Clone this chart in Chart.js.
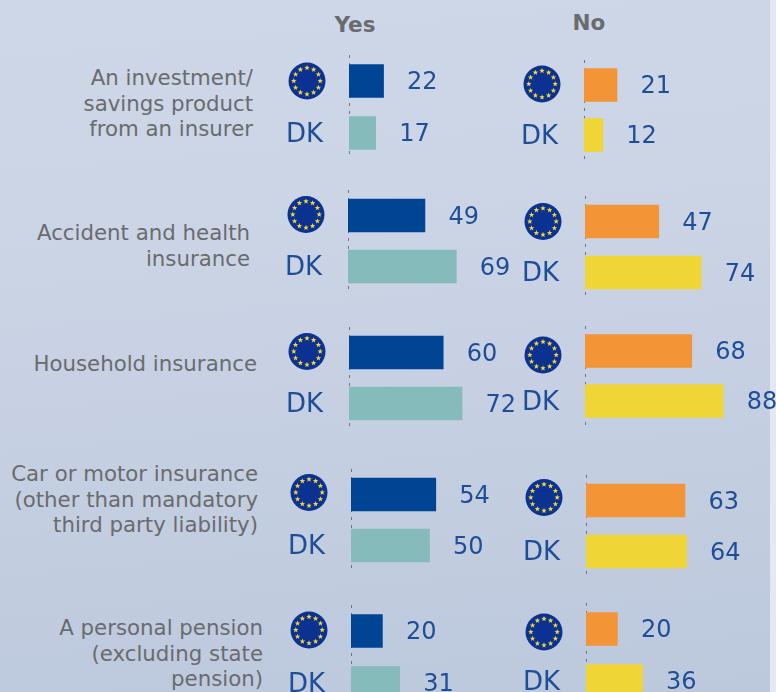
<!DOCTYPE html>
<html>
<head>
<meta charset="utf-8">
<script src="https://cdn.jsdelivr.net/npm/chart.js@4"></script>
<style>
  html, body { margin: 0; padding: 0; }
  body {
    width: 776px; height: 692px; overflow: hidden; position: relative;
    background: linear-gradient(175deg, #cdd7e7 0%, #ccd5e6 30%, #bcc8dc 100%);
    font-family: "DejaVu Sans", sans-serif; color: #6a6b6e;
  }
  canvas { position: absolute; }
  .edge { position: absolute; left: 770px; top: 0; width: 6px; height: 692px; background: #e3e8f2; }
  .cat { position: absolute; text-align: right; font-size: 21.3px; line-height: 25.5px; white-space: nowrap; }
  .head { position: absolute; font-size: 21.5px; font-weight: bold; transform: translateX(-50%); }
</style>
</head>
<body>
<div class="edge"></div>
<div class="head" style="left:355px;top:12px">Yes</div>
<div class="head" style="left:589px;top:10px">No</div>
<script>
const categories = [
  "An investment/\nsavings product\nfrom an insurer",
  "Accident and health\ninsurance",
  "Household insurance",
  "Car or motor insurance\n(other than mandatory\nthird party liability)",
  "A personal pension\n(excluding state\npension)",
];
const rowLabels = ["EU", "DK"];
const yesEU = [22, 49, 60, 54, 20];
const yesDK = [17, 69, 72, 50, 31];
const noEU = [21, 47, 68, 63, 20];
const noDK = [12, 74, 88, 64, 36];

// page layout for each small chart: axis x, first bar y, row spacing, flag nudge
const yesLayout = [[349, 81, 52, 0], [348, 215, 51, -1], [349, 352, 51, -1], [351, 494, 51, -2], [351, 631, 52, -1]];
const noLayout = [[584, 85, 50, -1], [585, 221, 51, 0], [585, 351, 50, 4], [586, 500, 51, -3], [586, 629, 52, 3]];
const catLayout = [[253, 65], [250, 220], [257, 351], [258, 461], [263, 615]];

const textBlue = "#1f4e98";

function drawFlag(ctx, cx, cy) {
  ctx.save();
  ctx.fillStyle = "#0b3291";
  ctx.beginPath();
  ctx.arc(cx, cy, 18.5, 0, Math.PI * 2);
  ctx.fill();
  ctx.fillStyle = "#f5d63a";
  for (let i = 0; i < 12; i++) {
    const a = (i * Math.PI) / 6;
    const sx = cx + 13.2 * Math.sin(a);
    const sy = cy - 13.2 * Math.cos(a);
    ctx.beginPath();
    for (let k = 0; k < 10; k++) {
      const r = k % 2 ? 1.2 : 2.9;
      const b = (k * Math.PI) / 5;
      ctx.lineTo(sx + r * Math.sin(b), sy - r * Math.cos(b));
    }
    ctx.closePath();
    ctx.fill();
  }
  ctx.restore();
}

// dotted zero line, flag, DK label and the value next to each bar
const rowDecor = {
  id: "rowDecor",
  beforeDatasetsDraw(chart) {
    const { ctx, chartArea, scales } = chart;
    const x = Math.round(scales.x.getPixelForValue(0)) + 0.5;
    ctx.save();
    ctx.strokeStyle = "#6f7680";
    ctx.setLineDash([3, 5]);
    ctx.beginPath();
    ctx.moveTo(x, chartArea.top);
    ctx.lineTo(x, chartArea.bottom);
    ctx.stroke();
    ctx.restore();
  },
  afterDatasetsDraw(chart, args, opts) {
    const { ctx, scales } = chart;
    drawFlag(ctx, scales.x.left - 42, scales.y.getPixelForValue(0) + opts.flagDy);
    ctx.save();
    ctx.fillStyle = textBlue;
    ctx.textBaseline = "middle";
    ctx.font = "26px 'DejaVu Sans'";
    ctx.textAlign = "right";
    ctx.fillText(chart.data.labels[1], scales.x.left - 26, scales.y.getPixelForValue(1) + 2);
    ctx.font = "24px 'DejaVu Sans'";
    ctx.textAlign = "left";
    chart.data.datasets[0].data.forEach((v, i) => {
      ctx.fillText(v, scales.x.getPixelForValue(v) + 23.5, scales.y.getPixelForValue(i) + 2);
    });
    ctx.restore();
  },
};

function addChart(euValues, dkValues, index, place, colors) {
  const [axisX, firstY, spacing, flagDy] = place;
  const canvas = document.createElement("canvas");
  canvas.width = 266;
  canvas.height = spacing * 2;
  canvas.style.left = axisX - 70 + "px";
  canvas.style.top = firstY - spacing / 2 + "px";
  document.body.appendChild(canvas);
  new Chart(canvas, {
    type: "bar",
    plugins: [rowDecor],
    data: {
      labels: rowLabels,
      datasets: [{
        data: [euValues[index], dkValues[index]],
        backgroundColor: colors,
        barThickness: 33,
      }],
    },
    options: {
      indexAxis: "y",
      responsive: false,
      animation: false,
      layout: { padding: { right: 6 } },
      plugins: { legend: { display: false }, tooltip: { enabled: false }, rowDecor: { flagDy } },
      scales: {
        x: { display: false, min: 0, max: 121 },
        y: {
          afterFit: (scale) => { scale.width = 70; },
          grid: { display: false, drawTicks: false },
          border: { display: false },
          ticks: { display: false },
        },
      },
    },
  });
}

categories.forEach((cat, i) => {
  addChart(yesEU, yesDK, i, yesLayout[i], ["#004494", "#86bbbb"]);
  addChart(noEU, noDK, i, noLayout[i], ["#f39536", "#efd535"]);
  const el = document.createElement("div");
  el.className = "cat";
  el.style.right = 776 - catLayout[i][0] + "px";
  el.style.top = catLayout[i][1] + "px";
  el.innerHTML = cat.replace(/\n/g, "<br>");
  document.body.appendChild(el);
});
</script>
</body>
</html>
